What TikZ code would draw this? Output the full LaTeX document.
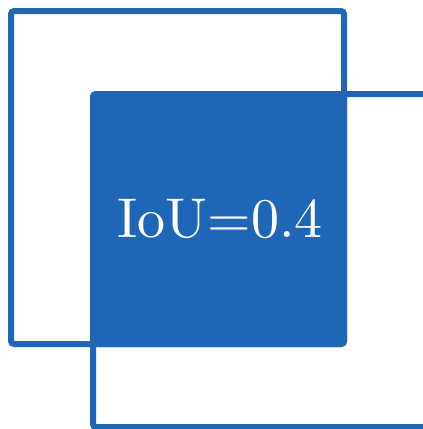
\documentclass[tikz,border=0pt]{standalone}
\usepackage{fontspec}
\newfontfamily\ioufont{lmroman10-regular}[Extension=.otf]
\definecolor{boxblue}{HTML}{1F66B6}
\begin{document}
\begin{tikzpicture}[x=1pt, y=-1pt,
    box/.style={draw=boxblue, line width=6pt, rounded corners=3pt},
    overlap/.style={box, fill=boxblue}
  ]
  \useasboundingbox (0,0) rectangle (423,429);
  \clip (0,0) rectangle (423,429);
  % the two boxes and their overlap
  \draw[box] (11,11) rectangle (344,344);
  \draw[box] (93,94) rectangle (460,427);
  \draw[overlap] (93,94) rectangle (344,344);
  \node[text=white, font=\ioufont\fontsize{56}{60}\selectfont] (iou) at (220,219) {IoU=0.4};
\end{tikzpicture}
\end{document}
